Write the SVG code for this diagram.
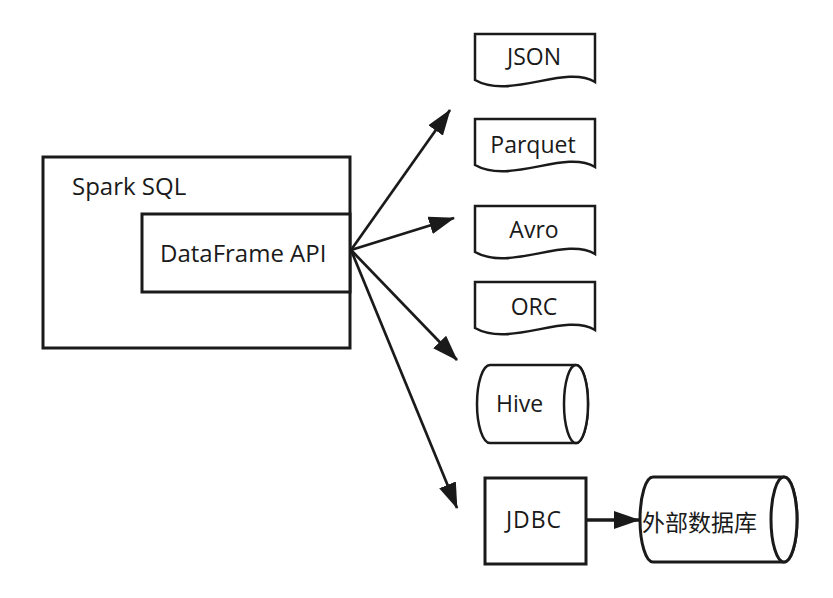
<svg xmlns="http://www.w3.org/2000/svg" width="833" height="598" viewBox="0 0 833 598">
<style>
.box{fill:#fff;stroke:#1a1a1a;stroke-width:3}
.shp{fill:#fff;stroke:#1a1a1a;stroke-width:2.5}
.t{font-family:"Open Sans","DejaVu Sans",sans-serif;font-size:23px;fill:#1a1a1a}
.tc{font-family:"Open Sans","Noto Sans CJK SC",sans-serif;font-size:23px;fill:#1a1a1a;text-anchor:middle}
.cn{font-family:"Noto Sans CJK SC","Open Sans",sans-serif;font-size:23px;fill:#1a1a1a}
.ln{fill:none;stroke:#1a1a1a;stroke-width:2.7}
</style>
<defs>
<marker id="ah" viewBox="0 0 26 18" refX="25" refY="9" markerWidth="26" markerHeight="18" markerUnits="userSpaceOnUse" orient="auto">
<path d="M0,0 L26,9 L0,18 Z" fill="#1a1a1a"/>
</marker>
</defs>
<g id="spark-sql">
<rect class="box" x="43" y="157" width="307" height="191"/>
<text class="t" x="72" y="195" style="font-size:24px">Spark SQL</text>
</g>
<g id="dataframe-api">
<rect class="box" x="142" y="214" width="208" height="78"/>
<text class="t" x="160" y="262" style="font-size:24px">DataFrame API</text>
</g>
<g id="json">
<path class="shp" d="M475,34 H595 V82 C565,64 510,100 475,80 Z"/>
<text class="tc" x="534" y="65">JSON</text>
</g>
<g id="parquet">
<path class="shp" d="M475,119 H595 V167 C565,149 510,185 475,165 Z"/>
<text class="tc" x="533" y="153">Parquet</text>
</g>
<g id="avro">
<path class="shp" d="M475,206 H595 V254 C565,236 510,272 475,252 Z"/>
<text class="tc" x="534" y="238">Avro</text>
</g>
<g id="orc">
<path class="shp" d="M475,282 H595 V330 C565,312 510,348 475,328 Z"/>
<text class="tc" x="534" y="315">ORC</text>
</g>
<g id="hive">
<path class="shp" d="M490,365 H576 A12,39 0 0 1 576,443 H490 A13,39 0 0 1 490,365 Z"/>
<ellipse class="shp" cx="576" cy="404" rx="12" ry="39"/>
<text class="t" x="496" y="412">Hive</text>
</g>
<g id="jdbc">
<rect class="box" x="485" y="478" width="101" height="86"/>
<text class="tc" x="534" y="528" style="letter-spacing:1px">JDBC</text>
</g>
<g id="external-db">
<path class="box" d="M653,477 H784 A13,42.5 0 0 1 784,562 H653 A13,42.5 0 0 1 653,477 Z"/>
<ellipse class="box" cx="784" cy="519.5" rx="13" ry="42.5"/>
<text class="cn" x="642" y="531">外部数据库</text>
</g>
<g id="connectors">
<line class="ln" x1="351" y1="250" x2="450" y2="110" marker-end="url(#ah)"/>
<line class="ln" x1="351" y1="250" x2="454" y2="218" marker-end="url(#ah)"/>
<line class="ln" x1="351" y1="250" x2="457" y2="360" marker-end="url(#ah)"/>
<line class="ln" x1="351" y1="250" x2="457" y2="508" marker-end="url(#ah)"/>
<line class="ln" x1="586" y1="520" x2="639" y2="520" style="stroke-width:3.5" marker-end="url(#ah)"/>
</g>
</svg>
